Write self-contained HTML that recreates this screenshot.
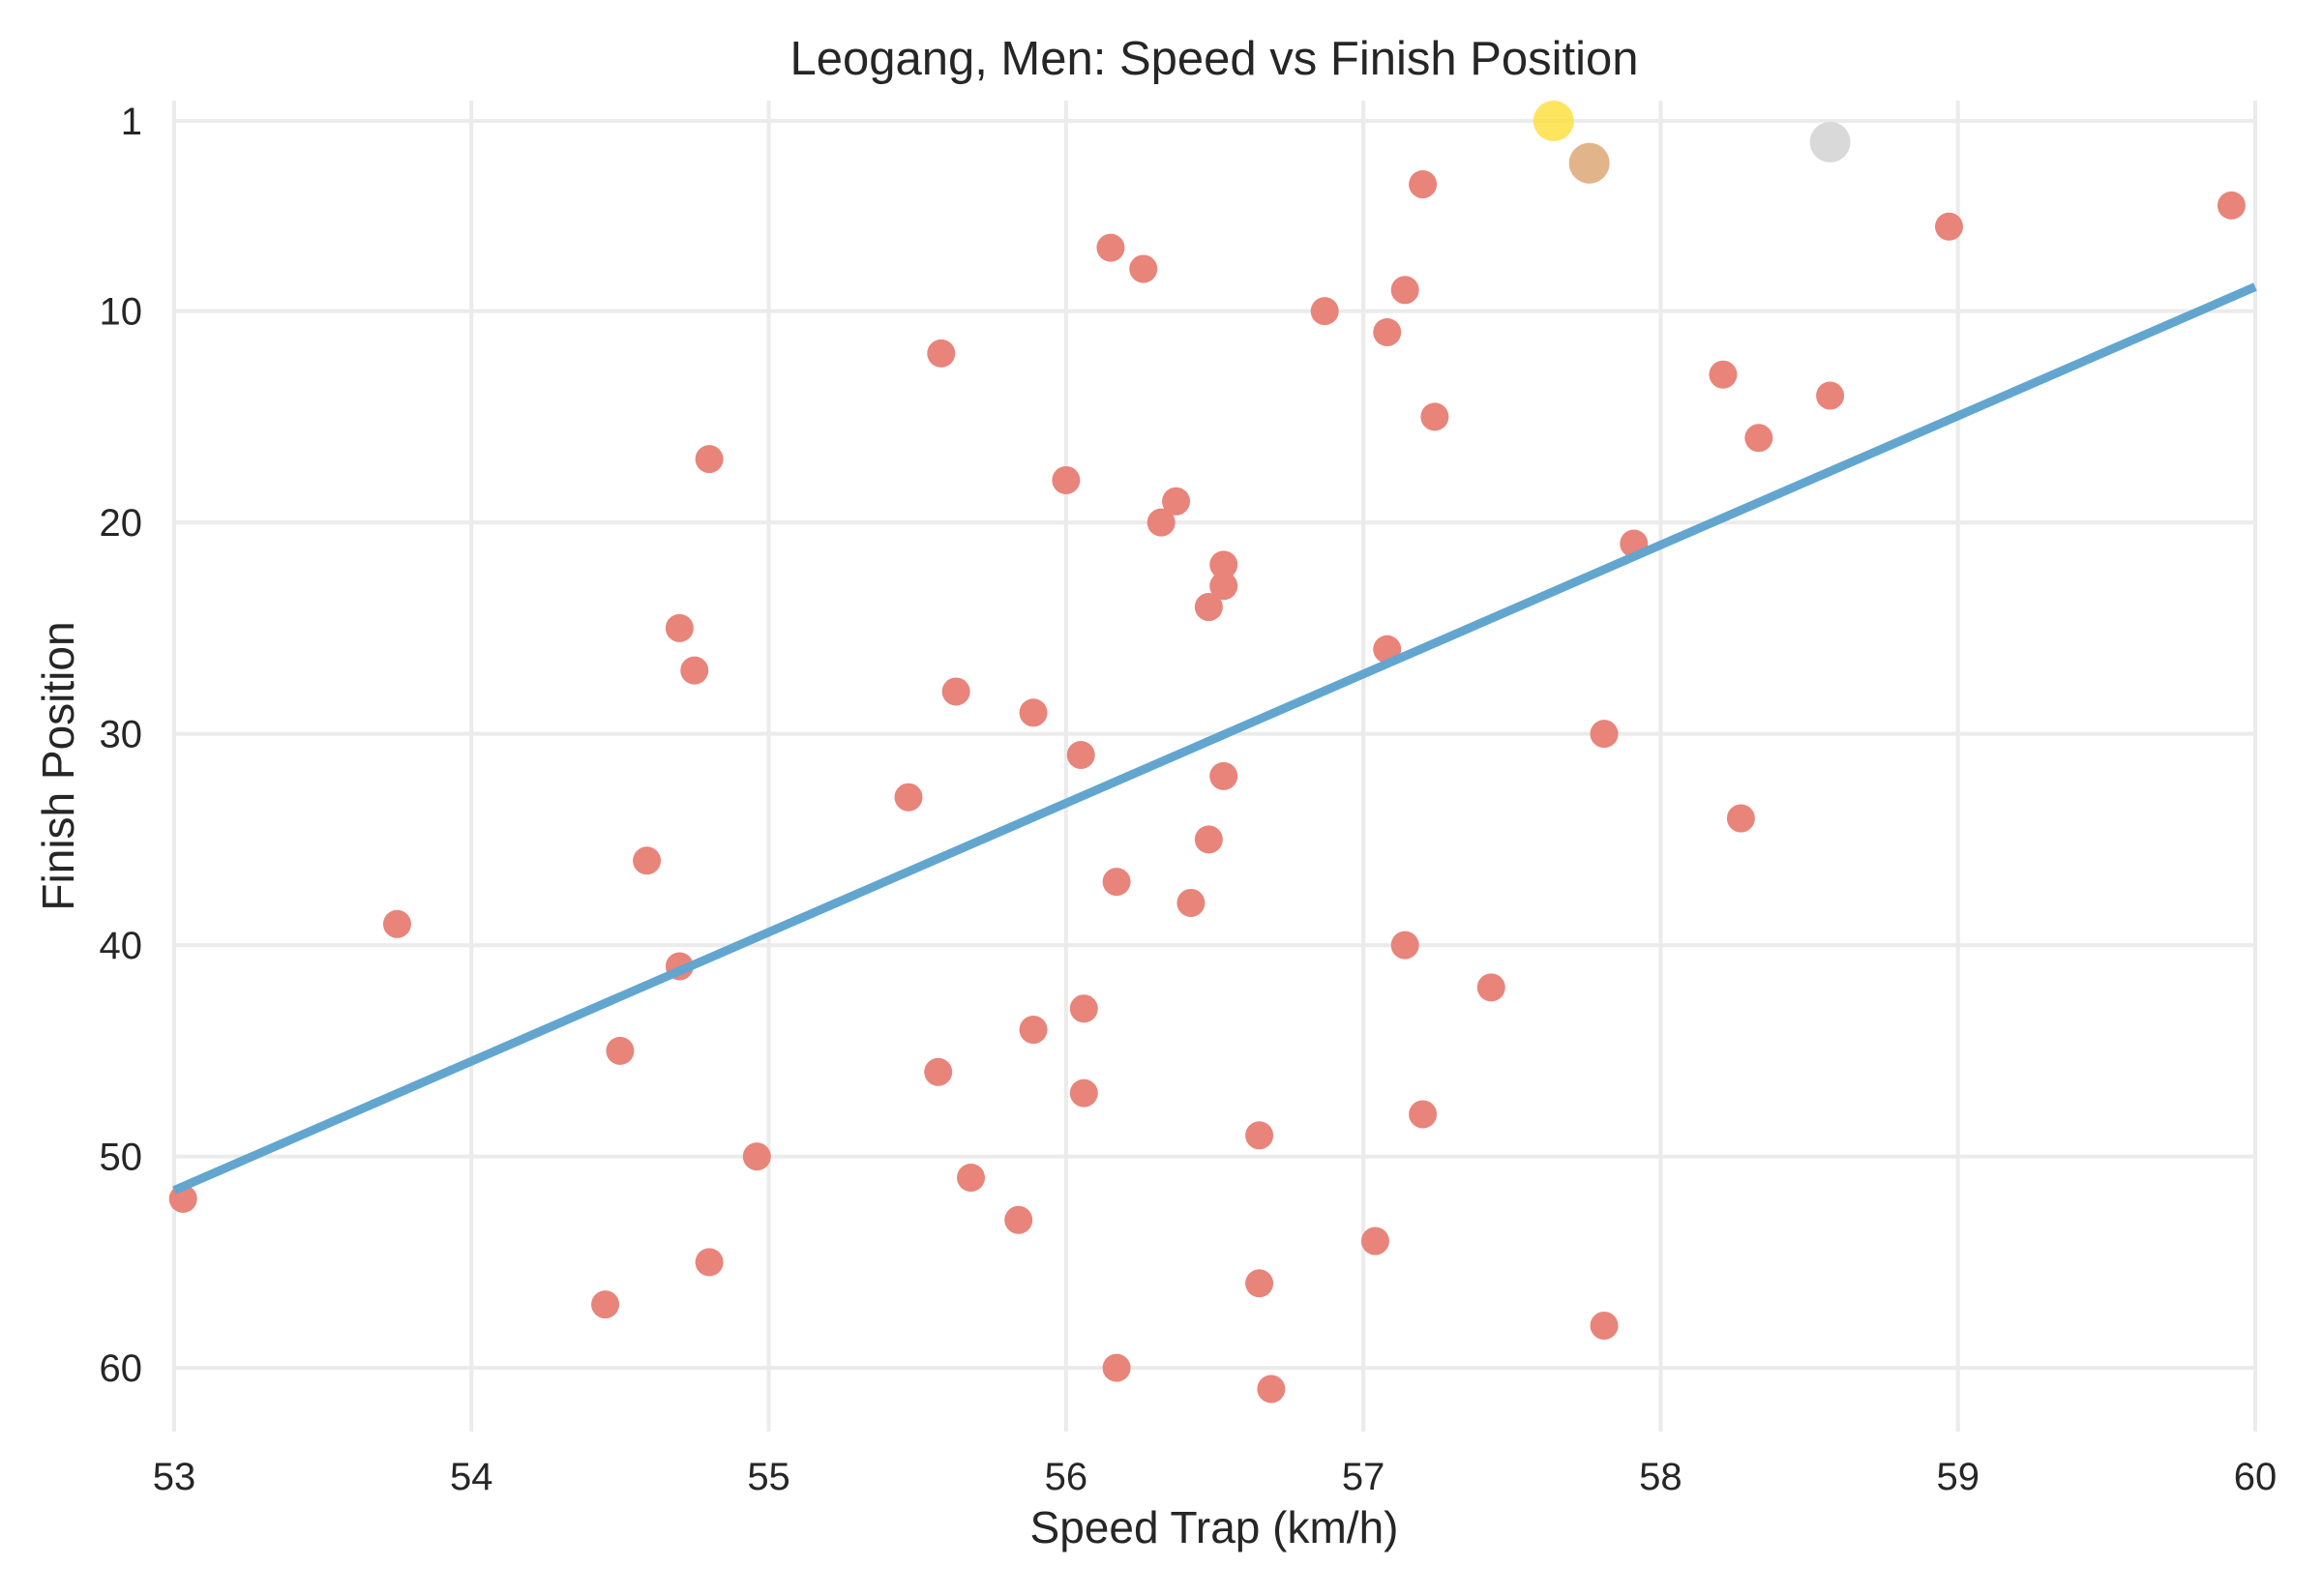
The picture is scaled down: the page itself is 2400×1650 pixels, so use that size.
<!DOCTYPE html>
<html><head><meta charset="utf-8"><style>
html,body{margin:0;padding:0;background:#fff;}
svg{display:block;font-family:"Liberation Sans",Arial,sans-serif;}
</style></head><body>
<svg id="chart" width="2400" height="1650" viewBox="0 0 2400 1650" xmlns="http://www.w3.org/2000/svg">
<rect width="2400" height="1650" fill="#fff"/>
<g id="grid"></g>
<g id="ticks"></g>
<g id="marks"></g>
<text x="1255" y="77" text-anchor="middle" font-size="49" fill="#262626">Leogang, Men: Speed vs Finish Position</text>
<text x="1255" y="1595" text-anchor="middle" font-size="46" fill="#262626">Speed Trap (km/h)</text>
<text transform="translate(76,792) rotate(-90)" text-anchor="middle" font-size="46" fill="#262626">Finish Position</text>
</svg>
<script>
const speeds = [57.64,58.57,57.76,57.20,59.92,58.97,56.15,56.26,57.14,56.87,57.08,55.58,58.21,58.57,57.24,58.33,54.80,56.00,56.37,56.32,57.91,56.53,56.53,56.48,54.70,57.08,54.75,55.63,55.89,57.81,56.05,56.53,55.47,58.27,56.48,54.59,56.17,56.42,53.75,57.14,54.70,57.43,56.06,55.89,54.50,55.57,56.06,57.20,56.65,54.96,55.68,53.03,55.84,57.04,54.80,56.65,54.45,57.81,56.17,56.69];
const positions = [1,2,3,4,5,6,7,8,9,10,11,12,13,14,15,16,17,18,19,20,21,22,23,24,25,26,27,28,29,30,31,32,33,34,35,36,37,38,39,40,41,42,43,44,45,46,47,48,49,50,51,52,53,54,55,56,57,58,60,61];
const xTicks = [53,54,55,56,57,58,59,60];
const yTicks = [1,10,20,30,40,50,60];
const fitX = [53,60];
const fitY = [51.6,8.85];

const NS = "http://www.w3.org/2000/svg";
const X0=180, X1=2331, XMIN=53, XMAX=60;
const Y1PX=125, YPER=21.85;
const PT=104, PB=1480;
function xs(v){return X0+(v-XMIN)*(X1-X0)/(XMAX-XMIN);}
function ys(v){return Y1PX+(v-1)*YPER;}
function mk(tag,attrs,parent){const e=document.createElementNS(NS,tag);for(const k in attrs)e.setAttribute(k,attrs[k]);parent.appendChild(e);return e;}

const grid=document.getElementById('grid'), ticks=document.getElementById('ticks'), marks=document.getElementById('marks');
xTicks.forEach(t=>{
  const l=mk('line',{x1:xs(t),x2:xs(t),y1:PT,y2:PB,stroke:'#ebebeb','stroke-width':4},grid);
  
  
  const tx=mk('text',{x:xs(t),y:1540,'text-anchor':'middle','font-size':40,fill:'#262626'},ticks);
  tx.textContent=t;
  
  
});
yTicks.forEach(t=>{
  const l=mk('line',{x1:X0,x2:X1,y1:ys(t),y2:ys(t),stroke:'#ebebeb','stroke-width':4},grid);
  
  
  const tx=mk('text',{x:147,y:ys(t)+14,'text-anchor':'end','font-size':40,fill:'#262626'},ticks);
  tx.textContent=t;
  
  
});
speeds.forEach((s,i)=>{
  const p=positions[i];
  if(p<=3) return;
  const c=mk('circle',{cx:xs(s),cy:ys(p),r:14.5,fill:'#e8847a'},marks);
  
  
});
const fit=mk('line',{x1:xs(fitX[0]),y1:ys(fitY[0]),x2:xs(fitX[1]),y2:ys(fitY[1]),stroke:'#62a6cf','stroke-width':9},marks);


const podiumColors={1:'rgba(253,222,50,0.78)',2:'#d9d9d9',3:'#e2b48a'};
speeds.forEach((s,i)=>{
  const p=positions[i];
  if(p>3) return;
  const c=mk('circle',{cx:xs(s),cy:ys(p),r:21,fill:podiumColors[p]},marks);
  
  
});
</script>
</body></html>
